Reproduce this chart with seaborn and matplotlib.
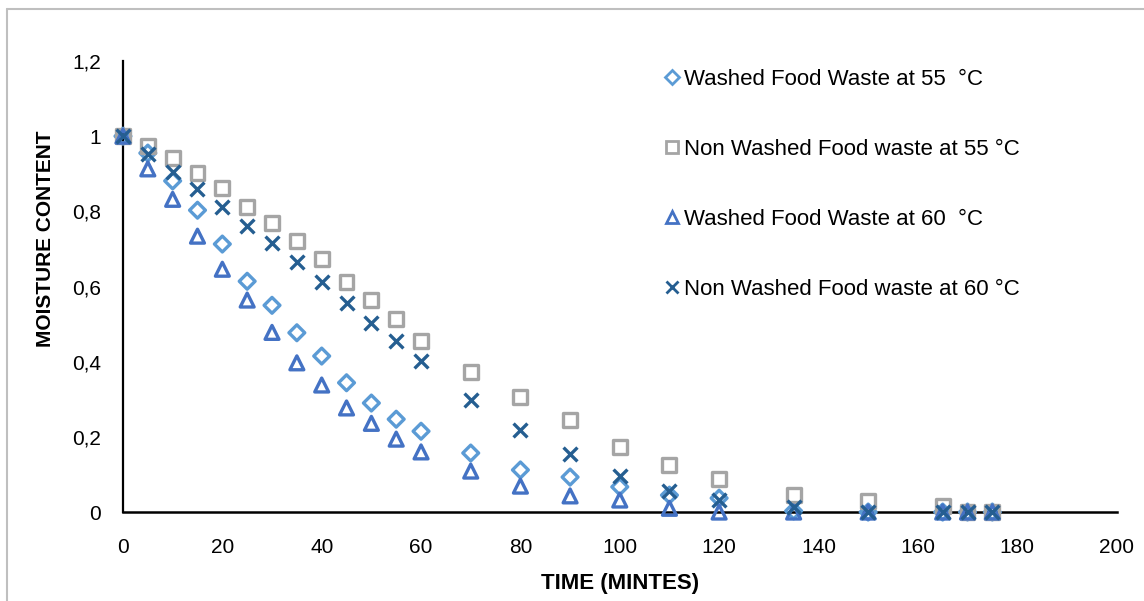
import matplotlib
matplotlib.use('Agg')
import matplotlib.pyplot as plt
import seaborn as sns
from matplotlib.lines import Line2D

time_min = [0, 5, 10, 15, 20, 25, 30, 35, 40, 45, 50, 55, 60,
            70, 80, 90, 100, 110, 120, 135, 150, 165, 170, 175]

washed_55 = [1, 0.955, 0.881, 0.803, 0.713, 0.614, 0.55, 0.477, 0.415, 0.344, 0.29, 0.247, 0.215,
             0.157, 0.112, 0.093, 0.067, 0.045, 0.037, 0.003, 0.0, 0.0, 0.0, 0.0]
non_washed_55 = [1, 0.975, 0.941, 0.902, 0.862, 0.811, 0.768, 0.721, 0.673, 0.612, 0.564, 0.513, 0.455,
                 0.372, 0.306, 0.245, 0.173, 0.125, 0.088, 0.045, 0.03, 0.015, 0.0, 0.0]
washed_60 = [1, 0.913, 0.832, 0.734, 0.646, 0.564, 0.478, 0.397, 0.338, 0.277, 0.236, 0.194, 0.16,
             0.109, 0.069, 0.043, 0.032, 0.01, 0.0, 0.0, 0.0, 0.0, 0.0, 0.0]
non_washed_60 = [1, 0.952, 0.905, 0.859, 0.811, 0.761, 0.715, 0.665, 0.611, 0.556, 0.502, 0.455, 0.402,
                 0.298, 0.217, 0.154, 0.096, 0.057, 0.032, 0.014, 0.0, 0.0, 0.0, 0.0]

labels = ['Washed Food Waste at 55  \u00b0C', 'Non Washed Food waste at 55 \u00b0C',
          'Washed Food Waste at 60  \u00b0C', 'Non Washed Food waste at 60 \u00b0C']
colors = ['#5B9BD5', '#A5A5A5', '#4472C4', '#255E91']
markers = ['D', 's', '^', 'x']
sizes = [65, 100, 100, 100]

ytick_vals = [0, 0.2, 0.4, 0.6, 0.8, 1.0, 1.2]
ytick_labels = ['0', '0,2', '0,4', '0,6', '0,8', '1', '1,2']
xtick_vals = list(range(0, 201, 20))

sns.set_style('white')
plt.rcParams['font.family'] = ['Liberation Sans', 'DejaVu Sans']
plt.rcParams['text.color'] = 'black'
plt.rcParams['axes.labelcolor'] = 'black'

fig = plt.figure(figsize=(11.44, 6.01), dpi=100)
ax = fig.add_axes([0.1075, 0.148, 0.8685, 0.7505])

series = [washed_55, non_washed_55, washed_60, non_washed_60]
for vals, lab, c, m, s in zip(series, labels, colors, markers, sizes):
    if m == 'x':
        sns.scatterplot(x=time_min, y=vals, ax=ax, marker=m, s=s, color=c,
                        linewidth=2.4, clip_on=False, zorder=3)
    else:
        sns.scatterplot(x=time_min, y=vals, ax=ax, marker=m, s=s, facecolor='none',
                        edgecolor=c, linewidth=2.4, clip_on=False, zorder=3)

ax.set_xlim(0, 200)
ax.set_ylim(0, 1.2)
ax.set_xticks(xtick_vals)
ax.set_yticks(ytick_vals)
ax.set_yticklabels(ytick_labels)
ax.tick_params(axis='both', length=0, labelsize=15, labelcolor='black')
ax.tick_params(axis='x', pad=19)
ax.tick_params(axis='y', pad=16)

for side in ['top', 'right']:
    ax.spines[side].set_visible(False)
ax.spines['left'].set_color('black')
ax.spines['left'].set_linewidth(1.6)
ax.spines['bottom'].set_color('black')
ax.spines['bottom'].set_linewidth(1.8)
ax.axhline(0, color='white', linestyle=(0, (1, 5)), linewidth=0.6, zorder=2.5)

ax.set_xlabel('TIME (MINTES)', fontsize=16, fontweight='bold')
ax.set_ylabel('MOISTURE CONTENT', fontsize=15, fontweight='bold')
ax.xaxis.set_label_coords(0.5, -0.135)
ax.yaxis.set_label_coords(-0.068, 0.607)

handles = []
for lab, c, m in zip(labels, colors, markers):
    if m == 'x':
        h = Line2D([], [], linestyle='none', marker=m, markersize=9, color=c,
                   markeredgewidth=2, label=lab)
    else:
        h = Line2D([], [], linestyle='none', marker=m, markersize=8 if m != 'D' else 7,
                   markerfacecolor='none', markeredgecolor=c, markeredgewidth=2, label=lab)
    handles.append(h)
fig.legend(handles=handles, loc='upper left', bbox_to_anchor=(0.574, 0.9),
           frameon=False, fontsize=16, handlelength=0.6, handletextpad=0.25,
           labelspacing=2.2, borderaxespad=0, labelcolor='black')

# light grey frame around the chart
fig.add_artist(Line2D([0.006, 1.0], [0.985, 0.985], color='#BFBFBF', linewidth=1.5,
                      transform=fig.transFigure))
fig.add_artist(Line2D([0.006, 0.006], [0.0, 0.985], color='#BFBFBF', linewidth=1.5,
                      transform=fig.transFigure))

fig.savefig('out.png', dpi=100)
